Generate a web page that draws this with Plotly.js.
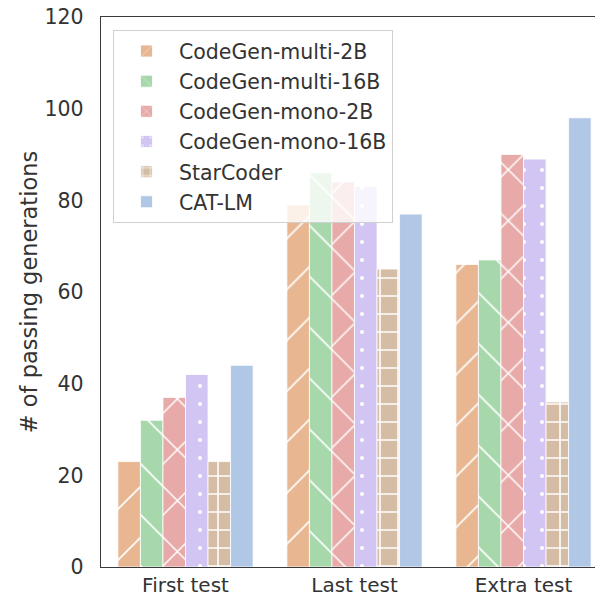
<!DOCTYPE html>
<html>
<head>
<meta charset="utf-8">
<script src="https://cdn.plot.ly/plotly-3.0.1.min.js"></script>
<style>html,body{margin:0;padding:0;background:#fff;}#chart{width:595px;height:599px;}</style>
</head>
<body>
<div id="chart"></div>
<script>
// Data
const categories = ["First test", "Last test", "Extra test"];
const seriesNames = ["CodeGen-multi-2B", "CodeGen-multi-16B", "CodeGen-mono-2B", "CodeGen-mono-16B", "StarCoder", "CAT-LM"];
const codegenMulti2B = [23, 79, 66];
const codegenMulti16B = [32, 86, 67];
const codegenMono2B = [37, 84, 90];
const codegenMono16B = [42, 83, 89];
const starCoder = [23, 65, 36];
const catLM = [44, 77, 98];
const yTicks = [0, 20, 40, 60, 80, 100, 120];

const seriesValues = [codegenMulti2B, codegenMulti16B, codegenMono2B, codegenMono16B, starCoder, catLM];
const colors = ["#e8b792", "#a7d8ab", "#e8aaa8", "#d2c5f4", "#d5bca4", "#b1c7e6"];
const patterns = [
  {shape: "/", size: 36, solidity: 0.045},
  {shape: "\\", size: 36, solidity: 0.045},
  {shape: "x", size: 36, solidity: 0.08},
  {shape: ".", size: 18, solidity: 0.04},
  {shape: "+", size: 18, solidity: 0.17},
  {shape: "", size: 8, solidity: 0.3}
];

const traces = seriesNames.map((name, i) => ({
  type: "bar",
  name: name,
  x: categories,
  y: seriesValues[i],
  legendgroup: "g" + i,
  marker: {
    color: colors[i],
    line: {color: "#ffffff", width: 0.8},
    pattern: {
      shape: patterns[i].shape,
      size: patterns[i].size,
      solidity: patterns[i].solidity,
      fgcolor: "#ffffff",
      bgcolor: colors[i],
      fillmode: "replace"
    }
  }
}));

const font = {family: "DejaVu Sans, sans-serif", size: 20.5, color: "#333333"};

const layout = {
  width: 595,
  height: 599,
  margin: {l: 101, r: 0, t: 17, b: 32},
  paper_bgcolor: "#ffffff",
  plot_bgcolor: "#ffffff",
  font: font,
  barmode: "group",
  bargap: 0.2,
  bargroupgap: 0,
  showlegend: true,
  legend: {
    x: 0.0243, y: 0.976, xanchor: "left", yanchor: "top",
    bgcolor: "rgba(255,255,255,0.8)",
    bordercolor: "#d0d0d0",
    borderwidth: 1,
    font: {family: "DejaVu Sans, sans-serif", size: 20.5, color: "#333333"},
    itemwidth: 55,
    traceorder: "grouped",
    tracegroupgap: 0.5
  },
  xaxis: {
    type: "category",
    range: [-0.5, 2.423],
    showline: true,
    linecolor: "#3a3a3a",
    linewidth: 1.3,
    mirror: true,
    showgrid: false,
    zeroline: false,
    ticks: "",
    ticklabelstandoff: 0,
    tickfont: {family: "DejaVu Sans, sans-serif", size: 20, color: "#333333"}
  },
  yaxis: {
    range: [0, 120],
    tickvals: yTicks,
    ticktext: yTicks.map(String),
    showline: true,
    linecolor: "#3a3a3a",
    linewidth: 1.3,
    mirror: false,
    showgrid: false,
    zeroline: false,
    ticks: "",
    ticklabelstandoff: 12,
    tickfont: {family: "DejaVu Sans, sans-serif", size: 20.5, color: "#333333"},
    title: {text: "# of passing generations", standoff: 0, font: {family: "DejaVu Sans, sans-serif", size: 22.5, color: "#333333"}}
  }
};

Plotly.newPlot("chart", traces, layout, {staticPlot: true, displayModeBar: false});
</script>
</body>
</html>
